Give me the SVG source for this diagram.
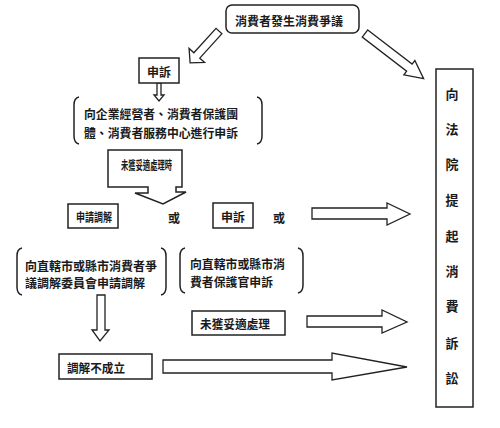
<svg xmlns="http://www.w3.org/2000/svg" width="500" height="428" viewBox="0 0 500 428">
<defs>
<style>
.box{fill:#fff;stroke:#222;stroke-width:1.5}
.arr{fill:#fff;stroke:#222;stroke-width:1.3;stroke-linejoin:miter}
.br{fill:none;stroke:#222;stroke-width:1.5}
text{font-family:"Noto Sans CJK TC","Noto Sans CJK SC",sans-serif;font-size:12px;font-weight:bold;fill:#1a1a1a;dominant-baseline:central}
.c{text-anchor:middle}
.v{font-size:13px;text-anchor:middle}
</style>
</defs>
<rect width="500" height="428" fill="#fff"/>
<g id="connectors">
<polygon class="arr" transform="translate(219,31) rotate(132.2)" points="0,-4 33,-4 33,-10.5 43,0 33,10.5 33,4 0,4"/>
<polygon class="arr" transform="translate(365,33.5) rotate(37.6)" points="0,-4.5 56,-4.5 56,-9 74,0 56,9 56,4.5 0,4.5"/>
<polygon class="arr" points="157,83 161,83 161,95 164,95 159,101 154,95 157,95"/>
<polygon class="arr" points="97,295 105,295 105,330 109,330 100,341 92,330 97,330"/>
<polygon class="arr" points="312,208 387,208 387,203 410,214 387,225 387,219 312,219"/>
<polygon class="arr" points="307,316 382,316 382,310 407,322 382,333 382,327 307,327"/>
<polygon class="arr" points="163,360 332,360 332,353 407,367 332,380 332,373 163,373"/>
</g>
<g id="n-dispute">
<rect class="box" x="226" y="5" width="133" height="28" rx="6"/>
<text class="c" x="289" y="20">消費者發生消費爭議</text>
</g>
<g id="n-complaint1">
<rect class="box" x="139" y="58" width="40" height="25"/>
<text class="c" x="159" y="71" font-size="11.5">申訴</text>
</g>
<g id="n-orgs">
<path class="br" d="M79,97 Q74,98 74,105 L74,136 Q74,143 79,144"/>
<path class="br" d="M257,97 Q262,98 262,105 L262,136 Q262,143 257,144"/>
<text x="84" y="113" textLength="154" lengthAdjust="spacingAndGlyphs">向企業經營者、消費者保護團</text>
<text x="84" y="132" textLength="154" lengthAdjust="spacingAndGlyphs">體、消費者服務中心進行申訴</text>
</g>
<g id="n-notproper1">
<polygon class="box" points="108,150 182,150 182,187 176,187 176,192 186,192 163,204 135,193 148,193 148,187 108,187"/>
<text x="121" y="164" textLength="51" lengthAdjust="spacingAndGlyphs">未獲妥適處理時</text>
</g>
<g id="n-mediation">
<rect class="box" x="68" y="204" width="50" height="24"/>
<text x="76" y="216" textLength="36" lengthAdjust="spacingAndGlyphs">申請調解</text>
</g>
<g id="n-or1"><text class="c" x="174" y="217">或</text></g>
<g id="n-complaint2">
<rect class="box" x="213" y="203" width="40" height="25"/>
<text class="c" x="233" y="216" font-size="11">申訴</text>
</g>
<g id="n-or2"><text class="c" x="279" y="217">或</text></g>
<g id="n-committee">
<path class="br" d="M22,248 Q17,249 17,256 L17,287 Q17,294 22,295"/>
<path class="br" d="M161,248 Q166,249 166,256 L166,287 Q166,294 161,295"/>
<text x="25" y="265" textLength="132" lengthAdjust="spacingAndGlyphs">向直轄市或縣市消費者爭</text>
<text x="25" y="282" textLength="120" lengthAdjust="spacingAndGlyphs">議調解委員會申請調解</text>
</g>
<g id="n-officer">
<path class="br" d="M185,248 Q180,249 180,256 L180,285 Q180,292 185,293"/>
<path class="br" d="M298,248 Q303,249 303,256 L303,285 Q303,292 298,293"/>
<text x="190" y="263" textLength="95" lengthAdjust="spacingAndGlyphs">向直轄市或縣市消</text>
<text x="190" y="281" textLength="83" lengthAdjust="spacingAndGlyphs">費者保護官申訴</text>
</g>
<g id="n-notproper2">
<rect class="box" x="192" y="311" width="93" height="24"/>
<text x="200" y="323" textLength="70" lengthAdjust="spacingAndGlyphs">未獲妥適處理</text>
</g>
<g id="n-fail">
<rect class="box" x="59" y="354" width="93" height="25"/>
<text x="67" y="367" textLength="58" lengthAdjust="spacingAndGlyphs">調解不成立</text>
</g>
<g id="n-court">
<rect class="box" x="436" y="69" width="37" height="338"/>
<text class="v" x="452" y="93">向</text>
<text class="v" x="452" y="128">法</text>
<text class="v" x="452" y="163">院</text>
<text class="v" x="452" y="199">提</text>
<text class="v" x="452" y="235">起</text>
<text class="v" x="452" y="270">消</text>
<text class="v" x="452" y="305">費</text>
<text class="v" x="452" y="342">訴</text>
<text class="v" x="452" y="377">訟</text>
</g>
</svg>
